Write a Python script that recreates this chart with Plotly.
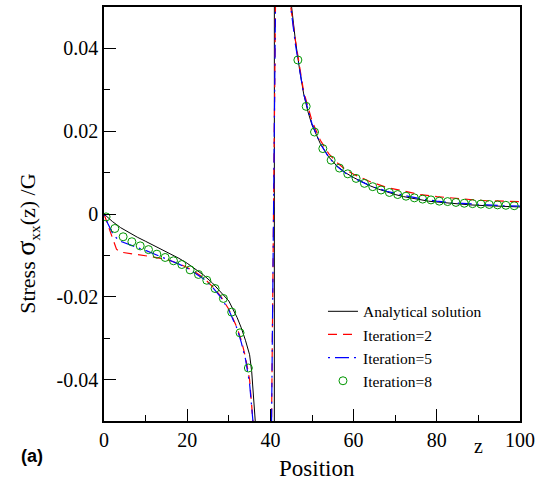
import plotly.graph_objects as go

# ---------------- data ----------------
# Analytical solution (black solid)
ana_x = [0, 2, 4, 6, 8, 10, 12, 14, 16, 18, 20, 22, 24, 26, 28, 30, 32, 33, 34, 35, 35.5, 36, 36.5, 37, 38,
         40.9, 41.0, 43, 44, 45.1, 46, 47, 48, 49, 50, 52, 54, 56, 58, 60, 62, 64, 66, 68, 70, 72, 74, 76,
         78, 80, 84, 88, 92, 96, 100]
ana_y = [0.0, -0.0018, -0.0033, -0.0045, -0.0056, -0.0066, -0.0076, -0.0086, -0.0096, -0.0107, -0.0119,
         -0.0133, -0.0148, -0.0166, -0.0188, -0.0210, -0.0250, -0.0275, -0.0305, -0.0340, -0.0380, -0.0440,
         -0.0520, -0.0620, -0.1200, -1.0, 1.0, 0.1500, 0.0700, 0.0500, 0.0420, 0.0350, 0.0290, 0.0248,
         0.0215, 0.0170, 0.0138, 0.0116, 0.0100, 0.0088, 0.0077, 0.0068, 0.0060, 0.0053, 0.0047, 0.0042,
         0.0038, 0.0034, 0.0031, 0.0029, 0.0025, 0.0022, 0.0020, 0.0018, 0.0017]

# Iteration = 2 (red dashed)
it2_x = [0, 1, 2, 3, 4, 6, 8, 10, 12, 14, 16, 18, 20, 22, 24, 26, 28, 30, 32, 33, 34, 35, 35.8, 36.5,
         40.0, 41.5, 43, 44.9, 46, 48, 50, 52, 54, 56, 58, 60, 64, 68, 72, 76, 80, 84, 88, 92, 96, 100]
it2_y = [0.0, -0.0030, -0.0060, -0.0085, -0.0092, -0.0095, -0.0097, -0.0100, -0.0104, -0.0108, -0.0113,
         -0.0120, -0.0129, -0.0141, -0.0155, -0.0174, -0.0198, -0.0230, -0.0275, -0.0305, -0.0345, -0.0400,
         -0.0500, -0.0650, -0.0800, 0.0800, 0.0700, 0.0500, 0.0420, 0.0295, 0.0225, 0.0178, 0.0146, 0.0124,
         0.0108, 0.0096, 0.0078, 0.0064, 0.0055, 0.0047, 0.0042, 0.0038, 0.0035, 0.0032, 0.0031, 0.0030]

# Iteration = 5 (blue dash-dot)
it5_x = [0, 1, 2, 3, 4, 6, 8, 10, 12, 14, 16, 18, 20, 22, 24, 26, 28, 30, 32, 33, 34, 35, 35.8, 36.5,
         40.0, 41.5, 43, 44.9, 46, 48, 50, 52, 54, 56, 58, 60, 64, 68, 72, 76, 80, 84, 88, 92, 96, 100]
it5_y = [0.0, -0.0025, -0.0045, -0.0058, -0.0066, -0.0074, -0.0081, -0.0088, -0.0096, -0.0104, -0.0112,
         -0.0121, -0.0131, -0.0143, -0.0157, -0.0176, -0.0200, -0.0232, -0.0277, -0.0310, -0.0350, -0.0410,
         -0.0500, -0.0650, -0.0800, 0.0800, 0.0700, 0.0500, 0.0410, 0.0290, 0.0218, 0.0170, 0.0137, 0.0115,
         0.0099, 0.0087, 0.0068, 0.0055, 0.0045, 0.0037, 0.0031, 0.0027, 0.0024, 0.0022, 0.0020, 0.0019]

# Iteration = 8 (green open circles)
it8_x = [0.5, 2.6, 4.6, 6.7, 8.7, 10.7, 12.7, 14.7, 16.7, 18.7, 20.7, 22.7, 24.7, 26.7, 28.7, 30.7, 32.7, 34.7,
         46.6, 48.6, 50.6, 52.6, 54.6, 56.6, 58.6, 60.6, 62.6, 64.6, 66.6, 68.6, 70.6, 72.6, 74.6, 76.6,
         78.6, 80.6, 82.6, 84.6, 86.6, 88.6, 90.6, 92.6, 94.6, 96.6, 98.6]
it8_y = [-0.0007, -0.0035, -0.0055, -0.0067, -0.0077, -0.0086, -0.0097, -0.0105, -0.0113, -0.0122,
         -0.0135, -0.0146, -0.0160, -0.0180, -0.0204, -0.0237, -0.0287, -0.0372,
         0.0372, 0.0260, 0.0198, 0.0158, 0.0130, 0.0111, 0.0097, 0.0086, 0.0074, 0.0066, 0.0058, 0.0052,
         0.0047, 0.0043, 0.0039, 0.0036, 0.0034, 0.0031, 0.0030, 0.0028, 0.0026, 0.0025, 0.0024, 0.0023,
         0.0022, 0.0021, 0.0020]

x_tickvals = [0, 20, 40, 60, 80, 100]
y_tickvals = [-0.04, -0.02, 0, 0.02, 0.04]
y_ticktext = ["-0.04", "-0.02", "0", "0.02", "0.04"]

# ---------------- figure ----------------
SERIF = "Liberation Serif, Times New Roman, serif"

fig = go.Figure()
fig.add_trace(go.Scatter(x=ana_x, y=ana_y, mode="lines", name="Analytical solution",
                         line=dict(color="black", width=1)))
fig.add_trace(go.Scatter(x=it2_x, y=it2_y, mode="lines", name="Iteration=2",
                         line=dict(color="#ff0000", width=1.2, dash="9px,6px")))
fig.add_trace(go.Scatter(x=it5_x, y=it5_y, mode="lines", name="Iteration=5",
                         line=dict(color="#0000ff", width=1.2, dash="2px,5px,14px,5px")))
fig.add_trace(go.Scatter(x=it8_x, y=it8_y, mode="markers", name="Iteration=8",
                         marker=dict(symbol="circle-open", size=8, color="rgb(0,150,0)",
                                     line=dict(width=1, color="rgb(0,150,0)"))))

fig.update_layout(
    width=543, height=485,
    margin=dict(l=104, r=23, t=5, b=64),
    paper_bgcolor="white", plot_bgcolor="white",
    font=dict(family=SERIF, size=20, color="black"),
    showlegend=True,
    legend=dict(x=0.5264, y=0.305, xanchor="left", yanchor="top",
                bgcolor="rgba(0,0,0,0)", borderwidth=0,
                font=dict(family=SERIF, size=15.5, color="black"),
                tracegroupgap=0, itemwidth=30),
    xaxis=dict(range=[0, 100], tickvals=x_tickvals, ticks="inside", ticklen=12, tickwidth=1,
               tickcolor="black", showline=True, linecolor="black", linewidth=1.5, mirror=True,
               showgrid=False, zeroline=False,
               minor=dict(dtick=10, ticks="inside", ticklen=6, tickwidth=1, tickcolor="black",
                          showgrid=False),
               tickfont=dict(family=SERIF, size=20)),
    yaxis=dict(range=[-0.05, 0.05], tickvals=y_tickvals, ticktext=y_ticktext, ticks="inside",
               ticklen=12, tickwidth=1, tickcolor="black", showline=True, linecolor="black",
               linewidth=1.5, mirror=True, showgrid=False, zeroline=False,
               minor=dict(dtick=0.01, ticks="inside", ticklen=6, tickwidth=1, tickcolor="black",
                          showgrid=False),
               tickfont=dict(family=SERIF, size=20)),
)

fig.add_annotation(text='Stress <span style="font-size:28px">σ</span><sub>xx</sub>(z) /G',
                   xref="paper", yref="paper", x=(27 - 104) / 416, y=(421 - 243) / 416,
                   xanchor="center", yanchor="middle", textangle=-90, showarrow=False,
                   font=dict(family=SERIF, size=22, color="black"))
fig.add_annotation(text="Position", xref="paper", yref="paper",
                   x=(317 - 104) / 416, y=-(469 - 421) / 416, xanchor="center", yanchor="middle",
                   showarrow=False, font=dict(family=SERIF, size=23, color="black"))
fig.add_annotation(text="z", xref="paper", yref="paper",
                   x=(478 - 104) / 416, y=-(446 - 421) / 416, xanchor="center", yanchor="middle",
                   showarrow=False, font=dict(family=SERIF, size=20, color="black"))
fig.add_annotation(text="<b>(a)</b>", xref="paper", yref="paper",
                   x=(32 - 104) / 416, y=-(456 - 421) / 416, xanchor="center", yanchor="middle",
                   showarrow=False, font=dict(family="Liberation Sans, Arial, sans-serif", size=18,
                                              color="black"))

fig.write_html("out.html", config={"displayModeBar": False},
               post_script="document.body.style.margin='0';")
